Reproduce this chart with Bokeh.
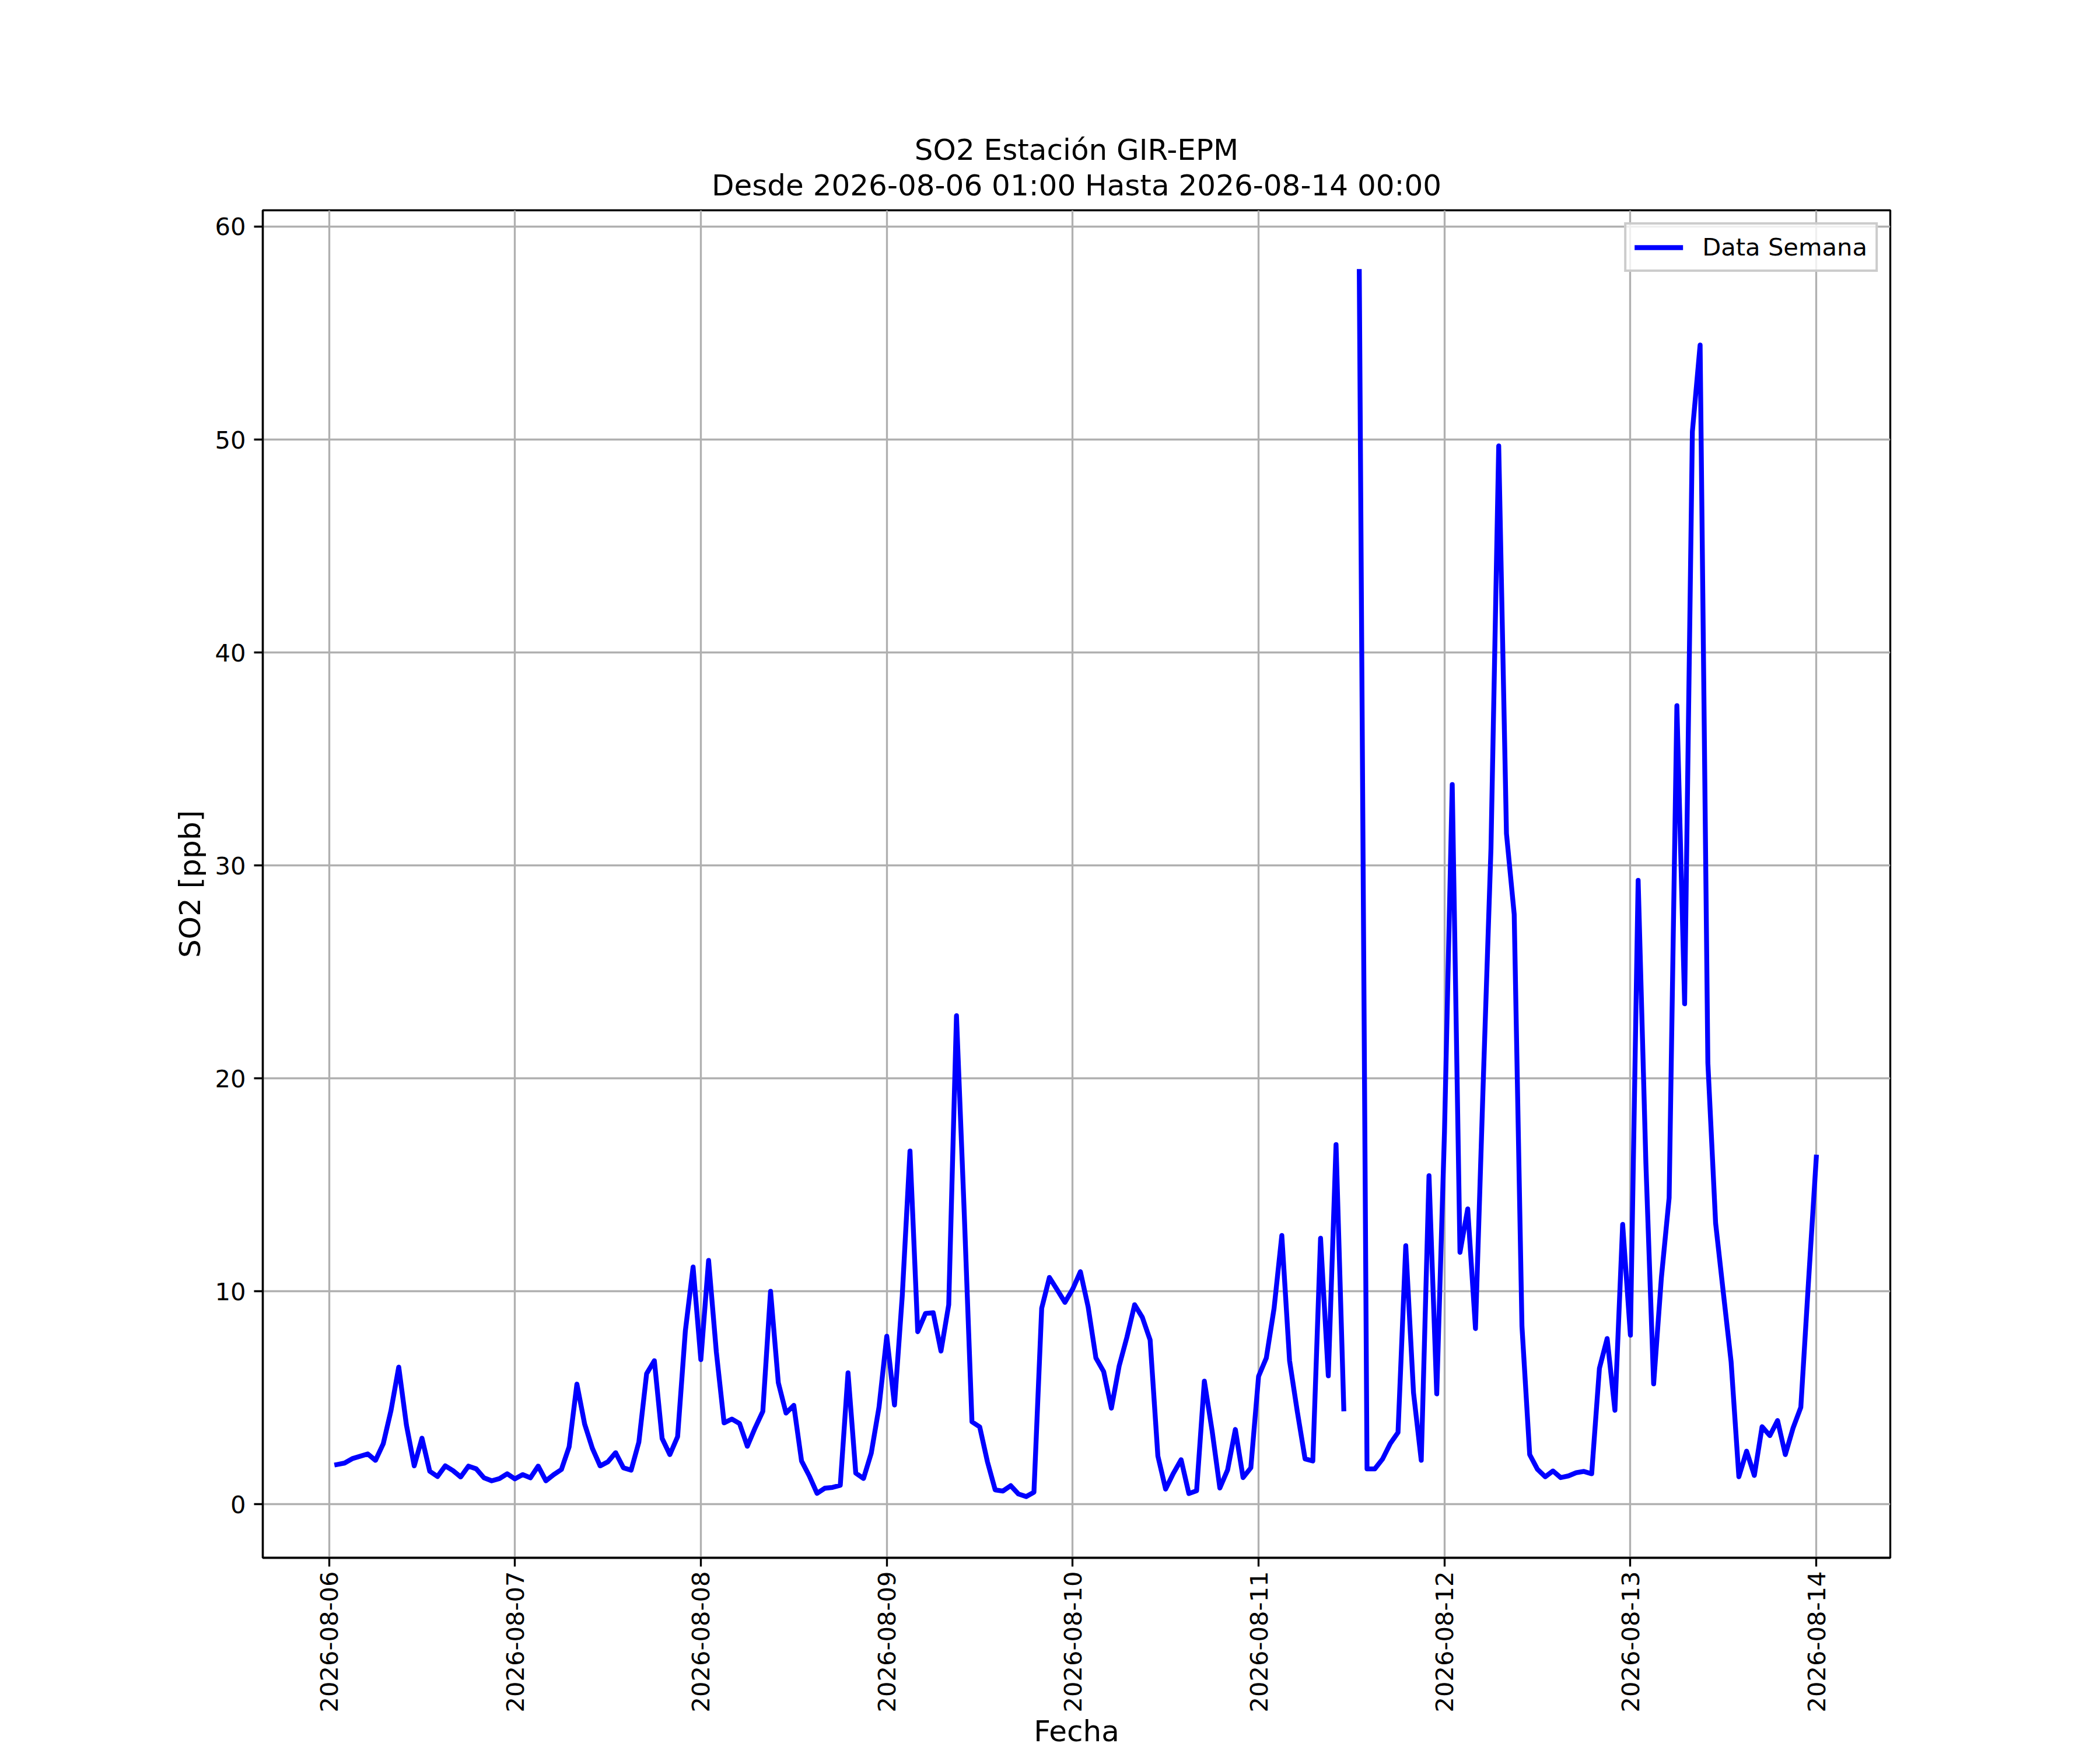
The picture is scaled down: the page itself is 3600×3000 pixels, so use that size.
import math
import pandas as pd
from bokeh.plotting import figure
from bokeh.models import (ColumnDataSource, FixedTicker, DatetimeTickFormatter, Range1d,
                          Title, Legend, LegendItem)
from bokeh.embed import file_html
from bokeh.resources import INLINE

# ---------------- data ----------------
title_main = "SO2 Estación GIR-EPM"
title_sub = "Desde 2026-08-06 01:00 Hasta 2026-08-14 00:00"
x_label = "Fecha"
y_label = "SO2 [ppb]"
series_name = "Data Semana"

start_time = "2026-08-06 01:00"
end_time = "2026-08-14 00:00"

so2_day06 = [1.86, 1.93, 2.14, 2.25, 2.36, 2.06, 2.84, 4.4, 6.44, 3.7, 1.8, 3.1,
             1.55, 1.3, 1.8, 1.58, 1.28, 1.79, 1.66, 1.24, 1.1, 1.2, 1.43]
so2_day07 = [1.19, 1.39, 1.24, 1.79, 1.1, 1.39, 1.63, 2.7, 5.64, 3.76, 2.62, 1.8,
             1.99, 2.42, 1.71, 1.6, 2.92, 6.13, 6.74, 3.09, 2.33, 3.17, 8.14, 11.14]
so2_day08 = [6.79, 11.45, 7.15, 3.82, 4.0, 3.79, 2.72, 3.58, 4.36, 10.0, 5.71, 4.28,
             4.64, 2.03, 1.33, 0.51, 0.75, 0.79, 0.89, 6.17, 1.46, 1.21, 2.4, 4.56]
so2_day09 = [7.89, 4.66, 9.78, 16.59, 8.1, 8.96, 8.99, 7.19, 9.37, 22.94, 13.7, 3.87,
             3.63, 1.99, 0.67, 0.62, 0.87, 0.48, 0.36, 0.56, 9.2, 10.65, 10.07, 9.48]
so2_day10 = [10.1, 10.92, 9.26, 6.87, 6.23, 4.51, 6.49, 7.84, 9.37, 8.77, 7.71, 2.26,
             0.71, 1.45, 2.09, 0.5, 0.63, 5.78, 3.45, 0.76, 1.61, 3.51, 1.25, 1.71]
so2_day11 = [6.01, 6.87, 9.2, 12.62, 6.74, 4.35, 2.13, 2.03, 12.49, 6.03, 16.89, 4.48,
             float("nan"), 57.89, 1.66, 1.66, 2.12, 2.85, 3.37, 12.14, 5.24, 2.06, 15.43, 5.18]
so2_day12 = [17.5, 33.8, 11.83, 13.87, 8.25, 19.8, 30.8, 49.7, 31.5, 27.7, 8.36, 2.33,
             1.64, 1.29, 1.56, 1.25, 1.33, 1.48, 1.54, 1.43, 6.38, 7.78, 4.41, 13.14]
so2_day13 = [7.94, 29.3, 16.0, 5.65, 10.64, 14.39, 37.5, 23.5, 50.37, 54.44, 20.73, 13.2,
             9.92, 6.69, 1.29, 2.49, 1.35, 3.64, 3.22, 3.93, 2.33, 3.58, 4.55, 10.5]
so2_day14 = [16.3]

x_tick_labels = ["2026-08-06", "2026-08-07", "2026-08-08", "2026-08-09", "2026-08-10",
                 "2026-08-11", "2026-08-12", "2026-08-13", "2026-08-14"]
y_ticks = [0, 10, 20, 30, 40, 50, 60]

so2 = (so2_day06 + so2_day07 + so2_day08 + so2_day09 + so2_day10 +
       so2_day11 + so2_day12 + so2_day13 + so2_day14)
times = pd.date_range(start_time, end_time, freq="h")

# ---------------- styles ----------------
FONT = "DejaVu Sans"
PT = 300 / 72.0            # px per point (12x10 in @ 300 dpi)
TICK_FS = "%.2fpx" % (10 * PT)
LABEL_FS = "%.2fpx" % (12 * PT)

src = ColumnDataSource(data=dict(t=times, v=so2))

t0, t1 = times[0], times[-1]
span = t1 - t0
x_lo = (t0 - span * 0.05).to_pydatetime()
x_hi = (t1 + span * 0.05).to_pydatetime()
vals = [v for v in so2 if v == v]
vspan = max(vals) - min(vals)
y_lo = min(vals) - 0.05 * vspan
y_hi = max(vals) + 0.05 * vspan

p = figure(width=3584, height=3000, x_axis_type="datetime",
           output_backend="svg", toolbar_location=None,
           x_range=Range1d(x_lo, x_hi), y_range=Range1d(y_lo, y_hi),
           min_border_left=450, min_border_right=344,
           min_border_top=360, min_border_bottom=330)

p.background_fill_color = "white"
p.border_fill_color = "white"
p.outline_line_color = "black"
p.outline_line_width = 0.8 * PT
p.outline_line_alpha = 1.0

r = p.line(x="t", y="v", source=src, line_color="#0000ff", line_width=2 * PT,
           line_join="round", line_cap="square")

# titles: main (outer) + second line (closer to frame), both centred
p.title.text = title_main
p.title.align = "center"
p.title.text_font = FONT
p.title.text_font_size = LABEL_FS
p.title.text_font_style = "normal"
p.title.text_color = "black"
try:
    p.title.standoff = -24
except ValueError:
    p.title.standoff = 0
sub = Title(text=title_sub, align="center", text_font=FONT, text_font_size=LABEL_FS,
            text_font_style="normal", text_color="black", standoff=27)
p.add_layout(sub, "above")

# axes
tick_ms = [pd.Timestamp(d).value // 10**6 for d in x_tick_labels]
p.xaxis.ticker = FixedTicker(ticks=tick_ms)
fmt = "%Y-%m-%d"
p.xaxis.formatter = DatetimeTickFormatter(hours=fmt, days=fmt, months=fmt, years=fmt,
                                          hourmin=fmt, minutes=fmt)
p.xaxis.major_label_orientation = math.pi / 2
p.yaxis.ticker = FixedTicker(ticks=y_ticks)

for ax in (p.xaxis, p.yaxis):
    ax.major_label_text_font = FONT
    ax.major_label_text_font_size = TICK_FS
    ax.major_label_text_color = "black"
    ax.axis_line_color = "black"
    ax.axis_line_width = 0.8 * PT
    ax.major_tick_line_color = "black"
    ax.major_tick_line_width = 0.8 * PT
    ax.major_tick_out = 15
    ax.major_tick_in = 0
    ax.minor_tick_line_color = None
    ax.axis_label_text_font = FONT
    ax.axis_label_text_font_size = LABEL_FS
    ax.axis_label_text_font_style = "normal"
    ax.axis_label_text_color = "black"

p.xaxis.major_label_standoff = 8
p.yaxis.major_label_standoff = 14

p.yaxis.axis_label = y_label
p.yaxis.axis_label_standoff = 10
p.xaxis.axis_label = x_label
p.xaxis.axis_label_standoff = 0

# grids
for g in (p.xgrid, p.ygrid):
    g.grid_line_color = "#b0b0b0"
    g.grid_line_width = 0.8 * PT
    g.grid_line_alpha = 1.0
p.xgrid.ticker = p.xaxis.ticker
p.ygrid.ticker = p.yaxis.ticker

# legend
legend = Legend(items=[LegendItem(label=series_name, renderers=[r])],
                location="top_right",
                label_text_font=FONT, label_text_font_size=TICK_FS,
                label_text_color="black",
                glyph_width=83, glyph_height=42,
                label_standoff=33, padding=14, margin=21,
                border_line_color="#cccccc", border_line_width=4,
                border_line_alpha=1.0,
                background_fill_color="white", background_fill_alpha=0.8)
p.add_layout(legend)

open("out.html", "w").write(file_html(p, INLINE))
